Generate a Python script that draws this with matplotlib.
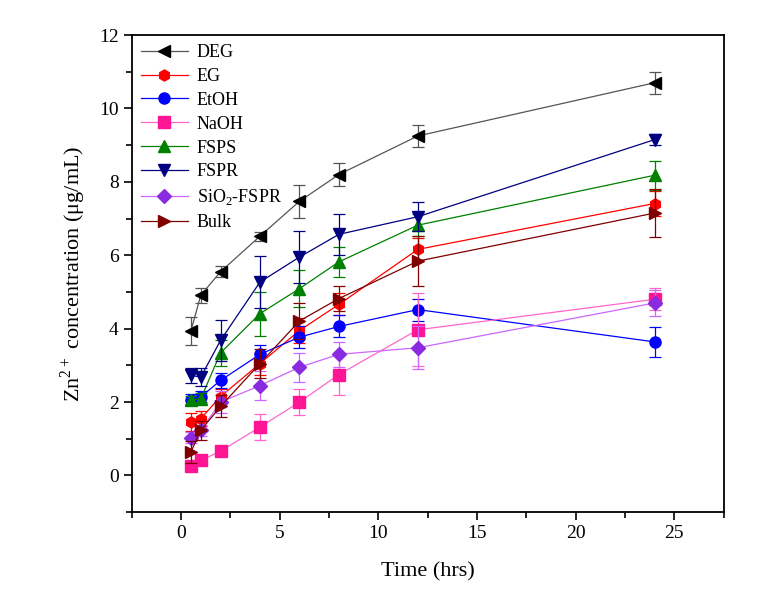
import matplotlib
matplotlib.use("Agg")
from matplotlib import pyplot as plt
from matplotlib.ticker import MultipleLocator

plt.rcParams['font.family'] = ['Liberation Serif', 'DejaVu Serif']
plt.rcParams['mathtext.fontset'] = 'custom'
plt.rcParams['mathtext.rm'] = 'Liberation Serif'

# sampling times (hrs)
time = [0.5, 1, 2, 4, 6, 8, 12, 24]

# Zn2+ concentration (ug/mL) and error bars
deg = [3.94, 4.91, 5.55, 6.52, 7.47, 8.2, 9.25, 10.7]
deg_err = [0.38, 0.2, 0.15, 0.12, 0.45, 0.3, 0.3, 0.3]
eg = [1.45, 1.55, 2.15, 3.05, 3.95, 4.66, 6.16, 7.41]
eg_err = [0.25, 0.2, 0.2, 0.3, 0.35, 0.3, 0.3, 0.35]
etoh = [2.06, 2.14, 2.59, 3.3, 3.77, 4.06, 4.52, 3.64]
etoh_err = [0.15, 0.15, 0.2, 0.25, 0.3, 0.3, 0.3, 0.4]
naoh = [0.27, 0.41, 0.66, 1.32, 2.0, 2.75, 3.97, 4.8]
naoh_err = [0.1, 0.1, 0.1, 0.35, 0.35, 0.55, 1.0, 0.3]
fsps = [2.06, 2.09, 3.34, 4.41, 5.09, 5.82, 6.82, 8.18]
fsps_err = [0.1, 0.15, 0.35, 0.6, 0.5, 0.4, 0.3, 0.4]
fspr = [2.73, 2.68, 3.68, 5.27, 5.95, 6.57, 7.05, 9.15]
fspr_err = [0.2, 0.25, 0.55, 0.7, 0.7, 0.55, 0.4, 0.15]
sio2 = [1.03, 1.23, 2.0, 2.45, 2.95, 3.3, 3.48, 4.7]
sio2_err = [0.15, 0.15, 0.3, 0.4, 0.4, 0.35, 0.58, 0.35]
bulk = [0.64, 1.23, 1.88, 3.05, 4.21, 4.82, 5.84, 7.15]
bulk_err = [0.3, 0.25, 0.3, 0.4, 0.5, 0.35, 0.68, 0.65]

series = [
    ("DEG", deg, deg_err, "black", "#555555", "<"),
    ("EG", eg, eg_err, "red", "red", "h"),
    ("EtOH", etoh, etoh_err, "blue", "blue", "o"),
    ("NaOH", naoh, naoh_err, "#ff1493", "#ff66cc", "s"),
    ("FSPS", fsps, fsps_err, "green", "green", "^"),
    ("FSPR", fspr, fspr_err, "#000080", "#000080", "v"),
    ("SiO$_2$-FSPR", sio2, sio2_err, "#8a2be2", "#cc66ff", "D"),
    ("Bulk", bulk, bulk_err, "#800000", "#800000", ">"),
]

fig = plt.figure(figsize=(7.57, 6.04), dpi=100)
ax = fig.add_axes([0.174, 0.152, 0.782, 0.79])

handles = []
for label, vals, errs, mcolor, lcolor, marker in series:
    ms = 7 if marker == "D" else 8
    # error bars drawn separately so the legend shows only line + marker
    ax.errorbar(time, vals, yerr=errs, fmt='none', ecolor=lcolor,
                elinewidth=0.9, capsize=4, capthick=0.9)
    line, = ax.plot(time, vals, color=lcolor, linewidth=0.9,
                    marker=marker, markersize=ms, markerfacecolor=mcolor,
                    markeredgecolor=mcolor, label=label)
    handles.append(line)

ax.set_xlim(-2.5, 27.5)
ax.set_ylim(-1, 12)
ax.xaxis.set_major_locator(MultipleLocator(5))
ax.xaxis.set_minor_locator(MultipleLocator(2.5))
ax.yaxis.set_major_locator(MultipleLocator(2))
ax.yaxis.set_minor_locator(MultipleLocator(1))
ax.tick_params(which='both', direction='out', top=False, right=False,
               labelsize=14, width=1.2)
ax.tick_params(which='major', length=6)
ax.tick_params(which='minor', length=4)
for sp in ax.spines.values():
    sp.set_linewidth(1.3)

ax.set_xlabel("Time (hrs)", fontsize=16, labelpad=14)
ax.set_ylabel("Zn$^{2+}$ concentration (μg/mL)", fontsize=16, labelpad=8)

ax.legend(handles=handles, loc='upper left', frameon=False, fontsize=13,
          handlelength=2.6, handletextpad=0.5, labelspacing=0.38,
          borderaxespad=0.2, borderpad=0.3)

fig.savefig("out.png", dpi=100, facecolor="white")
